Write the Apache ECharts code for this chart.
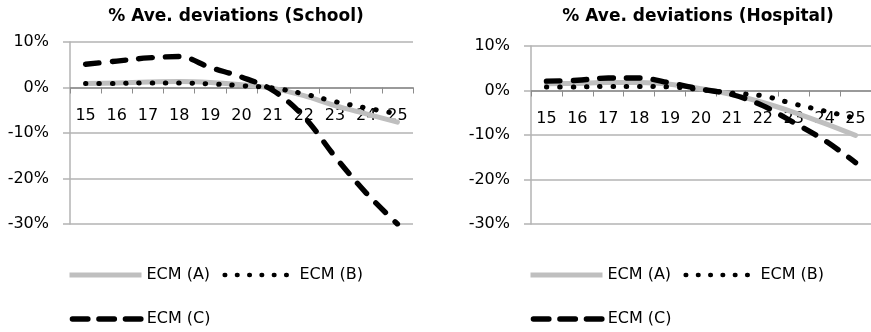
<!DOCTYPE html>
<html>
<head>
<meta charset="utf-8">
<script src="https://cdn.jsdelivr.net/npm/echarts@6/dist/echarts.min.js"></script>
<style>
  html, body { margin: 0; padding: 0; background: #fff; }
  #chart { width: 871px; height: 332px; }
</style>
</head>
<body>
<div id="chart"></div>
<script>
// Age categories along the horizontal axis
const ages = ['15', '16', '17', '18', '19', '20', '21', '22', '23', '24', '25'];

// % average deviations, School panel
const schoolA = [0.9, 1.0, 1.2, 1.3, 1.1, 0.6, -0.2, -1.8, -4.0, -5.8, -7.6];
const schoolB = [0.9, 0.9, 1.0, 1.0, 0.8, 0.4, -0.1, -1.4, -3.1, -4.5, -5.8];
const schoolC = [5.1, 5.8, 6.5, 6.8, 4.4, 2.3, -0.6, -6.4, -15.2, -23.2, -30.0];

// % average deviations, Hospital panel
const hospitalA = [1.5, 1.6, 1.8, 1.8, 1.4, 0.4, -0.9, -2.7, -4.9, -7.4, -10.1];
const hospitalB = [0.8, 0.8, 0.9, 0.9, 0.8, 0.2, -0.6, -1.2, -3.0, -4.6, -6.2];
const hospitalC = [2.1, 2.3, 2.8, 2.8, 1.7, 0.3, -0.9, -3.4, -7.2, -11.2, -16.2];

// Value-axis range and step (percent)
const yMin = -30;
const yMax = 10;
const yStep = 10;

const seriesNames = ['ECM (A)', 'ECM (B)', 'ECM (C)'];
const panelTitles = ['% Ave. deviations (School)', '% Ave. deviations (Hospital)'];

const FONT = 'DejaVu Sans';
const GRID_COLOR = '#b3b3b3';
const AXIS_COLOR = '#8c8c8c';

const lineStyles = [
  { color: '#bfbfbf', width: 5, type: 'solid', cap: 'round', join: 'round' },
  { color: '#000000', width: 5, type: [0.5, 12.8], cap: 'round', join: 'round' },
  { color: '#000000', width: 5.4, type: [13.5, 13.2], cap: 'round', join: 'round' }
];

// Line samples drawn in the legend keys
const legendLineStyles = [
  { color: '#bfbfbf', width: 5, type: 'solid', cap: 'butt' },
  { color: '#000000', width: 4.6, type: [0.5, 11.8], cap: 'round', dashOffset: -2.3 },
  { color: '#000000', width: 5.4, type: [15.5, 11], cap: 'round', dashOffset: -2.7 }
];

const grids = [
  { left: 70, top: 42, width: 343, height: 182 },
  { left: 531, top: 46, width: 340, height: 178 }
];

// The category axis sits on the 0% line: shift it up from the grid bottom
function zeroOffset(i) {
  const h = grids[i].height;
  return -h * (0 - yMin) / (yMax - yMin);
}

function xAxisFor(i) {
  return {
    type: 'category',
    gridIndex: i,
    data: ages,
    boundaryGap: true,
    position: 'bottom',
    offset: zeroOffset(i),
    axisLine: { onZero: false, lineStyle: { color: AXIS_COLOR, width: 1.5 } },
    axisTick: { show: true, inside: false, length: 6, lineStyle: { color: AXIS_COLOR } },
    axisLabel: { margin: 20, color: '#000', fontFamily: FONT, fontSize: 16 },
    splitLine: { show: false }
  };
}

function yAxisFor(i) {
  return {
    type: 'value',
    gridIndex: i,
    min: yMin,
    max: yMax,
    interval: yStep,
    axisLine: { show: true, onZero: false, lineStyle: { color: GRID_COLOR, width: 1.5 } },
    axisTick: { show: true, length: 7, lineStyle: { color: GRID_COLOR, width: 1.5 } },
    axisLabel: { margin: 21, color: '#000', fontFamily: FONT, fontSize: 16, formatter: '{value}%' },
    splitLine: { show: true, lineStyle: { color: GRID_COLOR, width: 1.5 } }
  };
}

function seriesFor(i, data) {
  return data.map((values, k) => ({
    name: seriesNames[k],
    type: 'line',
    xAxisIndex: i,
    yAxisIndex: i,
    data: values,
    smooth: 0.35,
    symbol: 'none',
    showSymbol: false,
    lineStyle: lineStyles[k],
    itemStyle: { color: lineStyles[k].color },
    z: 2 + k
  }));
}

function legendItem(k) {
  return { name: seriesNames[k], lineStyle: legendLineStyles[k] };
}

function legendsFor(i) {
  const left = grids[i].left - 3;
  const common = {
    left: left,
    orient: 'horizontal',
    itemWidth: 72,
    itemHeight: 14,
    itemGap: 10,
    padding: 0,
    // keep only the line sample in each legend key
    itemStyle: { color: 'transparent', borderColor: 'transparent', borderWidth: 0, opacity: 0 },
    textStyle: { color: '#000', fontFamily: FONT, fontSize: 16 },
    selectedMode: false
  };
  return [
    Object.assign({}, common, { top: 267, data: [legendItem(0), legendItem(1)] }),
    Object.assign({}, common, { top: 311, data: [legendItem(2)] })
  ];
}

const titleCenters = [236, 698];

const option = {
  animation: false,
  backgroundColor: '#ffffff',
  title: panelTitles.map((t, i) => ({
    text: t,
    left: titleCenters[i] - 5,
    top: 3,
    textAlign: 'center',
    textStyle: { fontFamily: FONT, fontSize: 17, fontWeight: 'bold', color: '#000' }
  })),
  grid: grids,
  xAxis: [xAxisFor(0), xAxisFor(1)],
  yAxis: [yAxisFor(0), yAxisFor(1)],
  legend: legendsFor(0).concat(legendsFor(1)),
  series: seriesFor(0, [schoolA, schoolB, schoolC]).concat(seriesFor(1, [hospitalA, hospitalB, hospitalC]))
};

const chart = echarts.init(document.getElementById('chart'), null, { renderer: 'canvas' });
chart.setOption(option);
</script>
</body>
</html>
